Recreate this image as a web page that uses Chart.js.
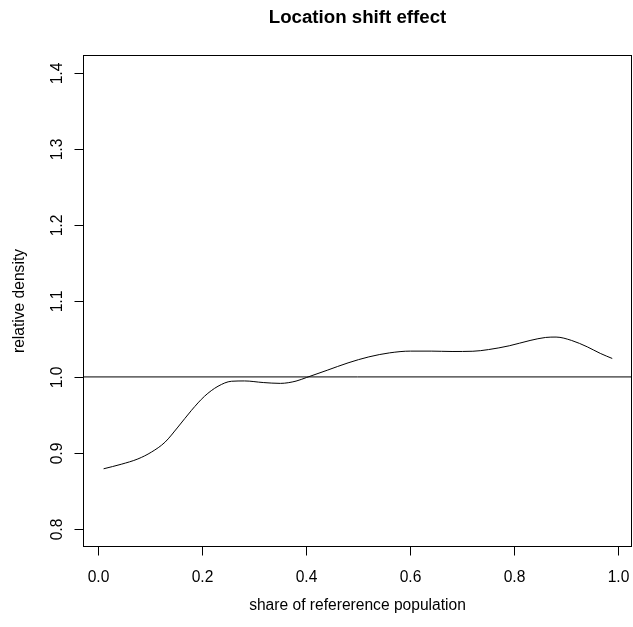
<!DOCTYPE html>
<html>
<head>
<meta charset="utf-8">
<script src="https://cdn.jsdelivr.net/npm/chart.js@4/dist/chart.umd.min.js"></script>
<style>
  html, body { margin: 0; padding: 0; background: #ffffff; }
  #wrap { width: 633px; height: 627px; position: relative; }
</style>
</head>
<body>
<div id="wrap"><canvas id="c" width="633" height="627"></canvas></div>
<script>
// ---- data ----
const shareValues = [0.01, 0.044, 0.076, 0.102, 0.128, 0.153, 0.179, 0.204, 0.23, 0.256, 0.281, 0.317, 0.35, 0.38, 0.40, 0.44, 0.48, 0.52, 0.56, 0.60, 0.64, 0.68, 0.72, 0.75, 0.79, 0.83, 0.86, 0.88, 0.91, 0.94, 0.965, 0.988];
const relDensity  = [0.879, 0.885, 0.892, 0.901, 0.914, 0.934, 0.956, 0.9745, 0.9877, 0.9943, 0.9947, 0.9926, 0.9915, 0.9945, 0.9992, 1.0088, 1.0185, 1.0264, 1.0317, 1.034, 1.034, 1.0335, 1.0338, 1.036, 1.041, 1.048, 1.052, 1.0525, 1.048, 1.0396, 1.031, 1.0243];
const referenceLevel = 1.0;
const xTickValues = [0, 0.2, 0.4, 0.6, 0.8, 1.0];
const xTickLabels = ["0.0", "0.2", "0.4", "0.6", "0.8", "1.0"];
const yTickValues = [0.8, 0.9, 1.0, 1.1, 1.2, 1.3, 1.4];
const yTickLabels = ["0.8", "0.9", "1.0", "1.1", "1.2", "1.3", "1.4"];
const chartTitle = "Location shift effect";
const xAxisTitle = "share of refererence population";
const yAxisTitle = "relative density";

const FONT = '"Liberation Sans", Arial, Helvetica, sans-serif';

const points = shareValues.map((x, i) => ({ x: x, y: relDensity[i] }));

const rAxesPlugin = {
  id: 'rAxes',
  afterDraw(chart) {
    const ctx = chart.ctx;
    const a = chart.chartArea;
    const xs = chart.scales.x, ys = chart.scales.y;
    ctx.save();
    ctx.strokeStyle = '#000';
    ctx.fillStyle = '#000';
    ctx.lineWidth = 1;

    // reference line
    const yr = ys.getPixelForValue(referenceLevel);
    ctx.beginPath();
    ctx.moveTo(a.left, yr);
    ctx.lineTo(a.right, yr);
    ctx.stroke();

    // box
    const L = Math.round(a.left) + 0.5, R = Math.round(a.right) - 0.5;
    const T = Math.round(a.top) + 0.5, B = Math.round(a.bottom) - 0.5;
    ctx.strokeRect(L, T, R - L, B - T);

    // x axis
    const xt = xs.ticks.map(t => t.value);
    ctx.beginPath();
    ctx.moveTo(xs.getPixelForValue(xt[0]), B);
    ctx.lineTo(xs.getPixelForValue(xt[xt.length - 1]), B);
    ctx.stroke();
    ctx.font = '15.6px ' + FONT;
    ctx.textAlign = 'center';
    ctx.textBaseline = 'alphabetic';
    xt.forEach((v, i) => {
      const px = Math.round(xs.getPixelForValue(v)) + 0.5;
      ctx.beginPath();
      ctx.moveTo(px, B);
      ctx.lineTo(px, B + 9);
      ctx.stroke();
      ctx.fillText(xTickLabels[i], px, 581.7);
    });

    // y axis
    const yt = ys.ticks.map(t => t.value);
    ctx.beginPath();
    ctx.moveTo(L, ys.getPixelForValue(yt[0]));
    ctx.lineTo(L, ys.getPixelForValue(yt[yt.length - 1]));
    ctx.stroke();
    yt.forEach((v, i) => {
      const py = Math.round(ys.getPixelForValue(v)) + 0.5;
      ctx.beginPath();
      ctx.moveTo(L, py);
      ctx.lineTo(L - 9, py);
      ctx.stroke();
      ctx.save();
      ctx.translate(61.5, py);
      ctx.rotate(-Math.PI / 2);
      ctx.fillText(yTickLabels[i], 0, 0);
      ctx.restore();
    });

    // axis titles
    const cx = (a.left + a.right) / 2;
    ctx.fillText(xAxisTitle, cx, 609.5);
    ctx.save();
    ctx.translate(24, (a.top + a.bottom) / 2);
    ctx.rotate(-Math.PI / 2);
    ctx.fillText(yAxisTitle, 0, 0);
    ctx.restore();

    // main title
    ctx.font = 'bold 18.7px ' + FONT;
    ctx.fillText(chartTitle, cx, 23);
    ctx.restore();
  }
};

new Chart(document.getElementById('c'), {
  type: 'line',
  data: {
    datasets: [{
      label: 'relative density',
      data: points,
      borderColor: '#000',
      borderWidth: 1,
      pointRadius: 0,
      fill: false,
      cubicInterpolationMode: 'monotone'
    }]
  },
  options: {
    responsive: false,
    animation: false,
    devicePixelRatio: 1,
    layout: { padding: { left: 83, top: 55, right: 1, bottom: 80 } },
    plugins: { legend: { display: false }, tooltip: { enabled: false }, title: { display: false } },
    scales: {
      x: {
        type: 'linear', display: false, min: -0.0296, max: 1.026,
        afterBuildTicks: s => { s.ticks = xTickValues.map(v => ({ value: v })); }
      },
      y: {
        type: 'linear', display: false, min: 0.776, max: 1.424,
        afterBuildTicks: s => { s.ticks = yTickValues.map(v => ({ value: v })); }
      }
    }
  },
  plugins: [rAxesPlugin]
});
</script>
</body>
</html>
